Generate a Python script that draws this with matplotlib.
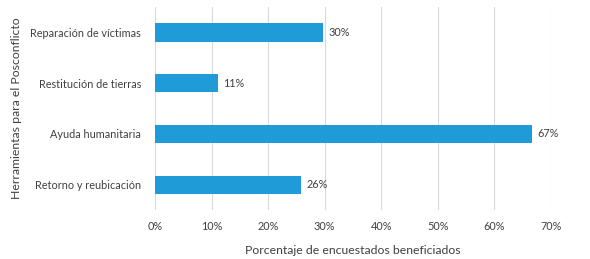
import matplotlib
matplotlib.use('Agg')
import matplotlib.pyplot as plt
from matplotlib.ticker import PercentFormatter

plt.rcParams['font.family'] = ['Lato', 'DejaVu Sans']

categories = ['Retorno y reubicación', 'Ayuda humanitaria', 'Restitución de tierras', 'Reparación de víctimas']
values = [0.258, 0.666, 0.111, 0.297]
labels = ['26%', '67%', '11%', '30%']
ticks = [0, 0.1, 0.2, 0.3, 0.4, 0.5, 0.6, 0.7]

txt = '#404040'
fig = plt.figure(figsize=(5.9, 2.59), dpi=100)
ax = fig.add_axes([0.2627, 0.189, 0.671, 0.784])

y = range(len(categories))
ax.barh(y, values, height=0.36, color='#1f9bd7', zorder=3)
for yi, v, lab in zip(y, values, labels):
    ax.text(v + 0.01, yi, lab, va='center', ha='left', fontsize=7.8, color=txt)

ax.set_xlim(0, 0.7)
ax.set_ylim(-0.5, 3.5)
ax.set_xticks(ticks)
ax.xaxis.set_major_formatter(PercentFormatter(1.0, decimals=0))
ax.set_yticks(list(y))
ax.set_yticklabels(categories)
ax.grid(axis='x', color='#d9d9d9', linewidth=0.8, zorder=0)
ax.tick_params(length=0, labelsize=7.8, colors=txt)
ax.tick_params(axis='x', pad=8)
ax.tick_params(axis='y', pad=10)
for s in ax.spines.values():
    s.set_visible(False)

ax.set_xlabel('Porcentaje de encuestados beneficiados', fontsize=8.8, color=txt, labelpad=9)
ax.set_ylabel('Herramientas para el Posconflicto', fontsize=8.8, color=txt, labelpad=6)

fig.savefig('out.png', dpi=100)
